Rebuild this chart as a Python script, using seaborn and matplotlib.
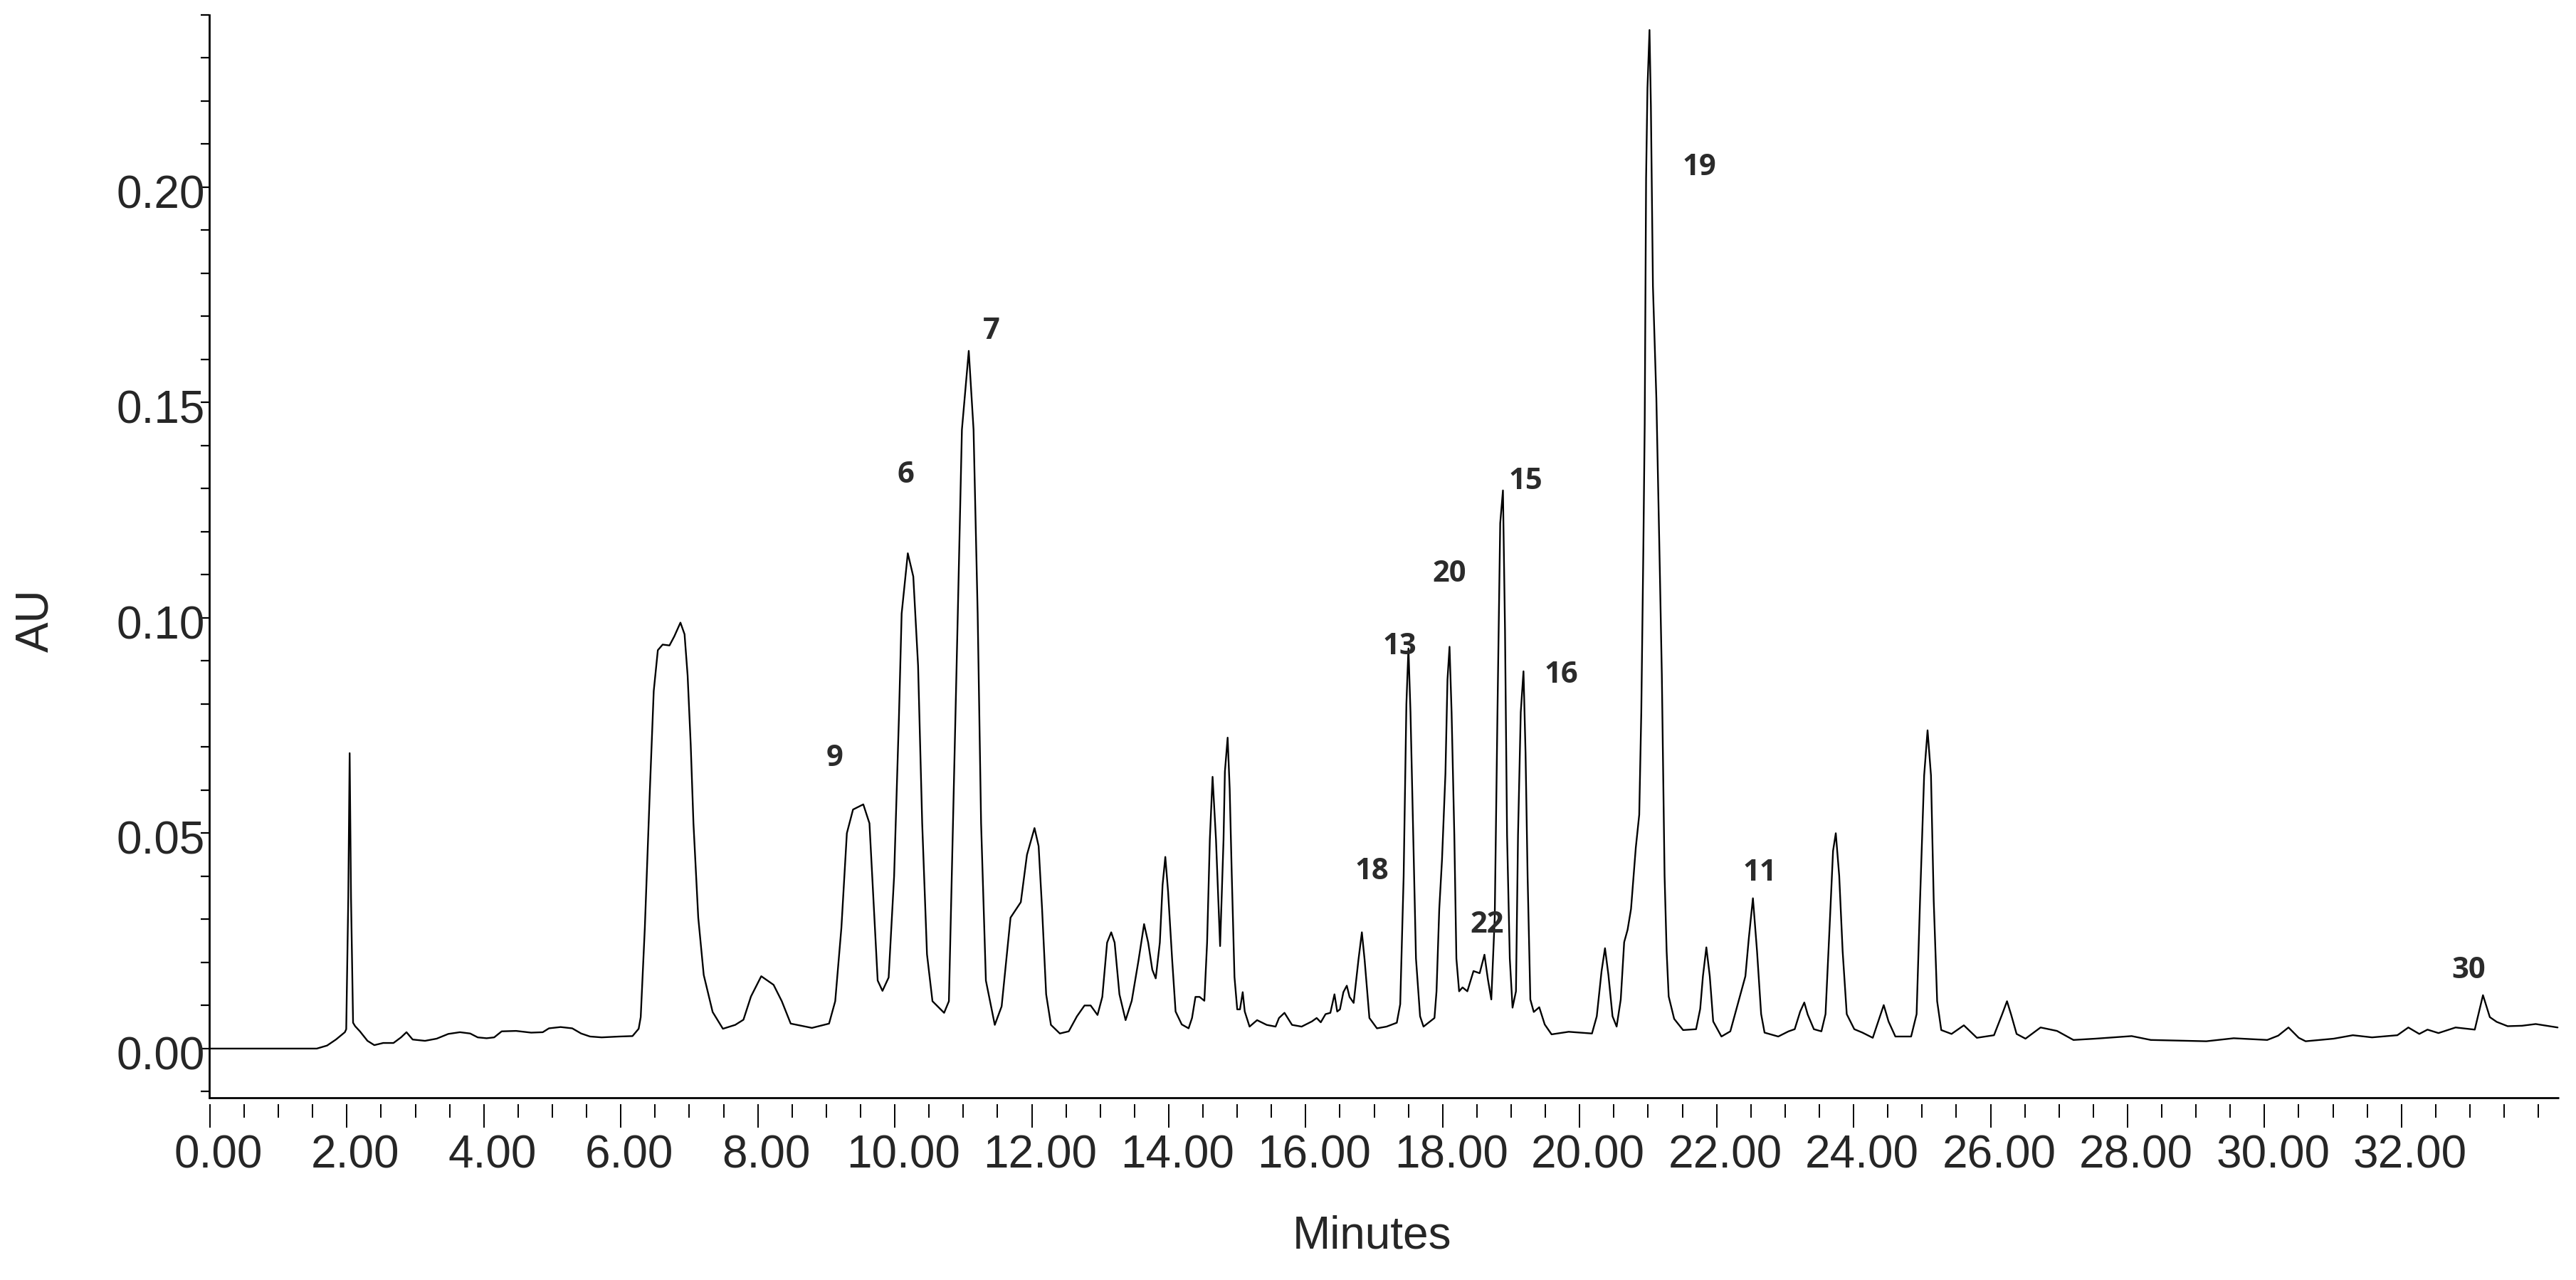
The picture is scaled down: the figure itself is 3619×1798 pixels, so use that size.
import matplotlib
matplotlib.use("Agg")
import matplotlib.pyplot as plt
import matplotlib.transforms as mtransforms
from matplotlib.lines import Line2D
from matplotlib.ticker import MultipleLocator
import seaborn as sns
import pandas as pd

# ---------------- data ----------------
minutes = [
    0.00, 1.56, 1.71, 1.84, 1.97, 1.99, 2.02, 2.04, 2.06, 2.09, 2.12, 2.19, 2.30, 2.40, 2.53,
    2.68, 2.79, 2.87, 2.96, 3.14, 3.31, 3.48, 3.65, 3.80, 3.91, 4.04, 4.15, 4.26, 4.47,
    4.69, 4.86, 4.95, 5.12, 5.29, 5.42, 5.55, 5.72, 5.98, 6.17, 6.26,
    6.29, 6.35, 6.42, 6.48, 6.54, 6.61, 6.71, 6.78, 6.87, 6.93, 6.975, 7.02, 7.06, 7.13,
    7.21, 7.34, 7.49, 7.67, 7.79, 7.90, 8.05, 8.23, 8.35, 8.48, 8.79, 9.04, 9.13, 9.22,
    9.30, 9.39, 9.54, 9.63, 9.69, 9.75, 9.82, 9.91, 9.99, 10.06, 10.10, 10.19, 10.27,
    10.34, 10.40, 10.47, 10.55, 10.72, 10.79, 10.85, 10.92, 10.98, 11.08, 11.15, 11.21,
    11.26, 11.33, 11.46, 11.56, 11.69, 11.84, 11.93, 12.04, 12.10, 12.15, 12.21, 12.28,
    12.41, 12.54,
    12.66, 12.77, 12.86, 12.96, 13.03, 13.10, 13.16, 13.21, 13.28, 13.37, 13.46, 13.56,
    13.64, 13.70, 13.76, 13.81, 13.87, 13.91, 13.95, 13.99, 14.05, 14.10, 14.19, 14.29,
    14.34, 14.39, 14.45, 14.52, 14.56, 14.60, 14.64, 14.69, 14.75, 14.80, 14.82, 14.86,
    14.89, 14.92, 14.96, 15.00, 15.04, 15.08, 15.11, 15.18, 15.29, 15.43, 15.56, 15.61,
    15.69, 15.80, 15.94, 16.09, 16.16, 16.22, 16.29, 16.36, 16.42, 16.46, 16.50, 16.55,
    16.60, 16.64, 16.70, 16.77, 16.82, 16.86, 16.93, 17.04, 17.18, 17.33,
    17.38, 17.43, 17.47, 17.50, 17.53, 17.57, 17.61, 17.67, 17.72, 17.88, 17.91, 17.95,
    17.99, 18.04, 18.07, 18.10, 18.13, 18.17, 18.20, 18.24, 18.29, 18.36, 18.45, 18.54,
    18.61, 18.66, 18.71, 18.76, 18.80, 18.84, 18.88, 18.91, 18.94, 18.98, 19.02, 19.07,
    19.10, 19.14, 19.18, 19.21, 19.24, 19.28, 19.33, 19.41, 19.49, 19.59, 19.84, 20.18,
    20.25, 20.32, 20.37, 20.42, 20.48, 20.54, 20.60, 20.65, 20.70, 20.75, 20.82, 20.87,
    20.90, 20.93, 20.95, 20.97, 20.99, 21.02, 21.04, 21.07, 21.12, 21.17,
    21.20, 21.22, 21.24, 21.27, 21.30, 21.38, 21.51, 21.70, 21.76, 21.80, 21.85, 21.90,
    21.95, 22.07, 22.20, 22.32, 22.42, 22.47, 22.53, 22.59, 22.65, 22.70, 22.90, 23.05,
    23.14, 23.22, 23.28, 23.33, 23.42, 23.53, 23.59, 23.65, 23.70, 23.74, 23.79, 23.84,
    23.90, 24.01, 24.13, 24.28, 24.36, 24.44, 24.51, 24.61, 24.84, 24.92, 24.97, 25.03,
    25.08, 25.13, 25.17, 25.22, 25.28, 25.43, 25.61, 25.80, 26.05, 26.17, 26.24, 26.30,
    26.38, 26.51,
    26.73, 26.97, 27.21, 27.53, 28.06, 28.34, 29.15, 29.55, 30.04, 30.20, 30.35, 30.50,
    30.60, 31.01, 31.29, 31.57, 31.94, 32.10, 32.26, 32.38, 32.54, 32.79, 33.07, 33.19,
    33.29, 33.39, 33.55, 33.76, 33.96, 34.28,
]
absorbance = [
    0.0000, 0.0000, 0.0007, 0.0021, 0.0038, 0.0045, 0.0350, 0.0686, 0.0350, 0.0060, 0.0052, 0.0040, 0.0018, 0.0008, 0.0013,
    0.0013, 0.0026, 0.0038, 0.0021, 0.0018, 0.0023, 0.0034, 0.0038, 0.0035, 0.0026, 0.0024, 0.0026, 0.0040, 0.0041,
    0.0037, 0.0038, 0.0047, 0.0050, 0.0047, 0.0035, 0.0028, 0.0026, 0.0028, 0.0029, 0.0046,
    0.0073, 0.0280, 0.0585, 0.0830, 0.0925, 0.0938, 0.0936, 0.0957, 0.0989, 0.0962, 0.0866, 0.0706, 0.0523, 0.0304,
    0.0171, 0.0085, 0.0046, 0.0055, 0.0067, 0.0121, 0.0168, 0.0148, 0.0110, 0.0058, 0.0048, 0.0058, 0.0110, 0.0280,
    0.0500, 0.0555, 0.0567, 0.0523, 0.0340, 0.0158, 0.0134, 0.0165, 0.0400, 0.0767, 0.1010, 0.1150, 0.1096,
    0.0889, 0.0523, 0.0219, 0.0110, 0.0083, 0.0110, 0.0523, 0.1010, 0.1437, 0.1620, 0.1437, 0.1010,
    0.0523, 0.0158, 0.0055, 0.0098, 0.0304, 0.0340, 0.0450, 0.0512, 0.0470, 0.0326, 0.0126, 0.0055,
    0.0035, 0.0040,
    0.0075, 0.0100, 0.0100, 0.0078, 0.0120, 0.0246, 0.0270, 0.0246, 0.0126, 0.0066, 0.0111, 0.0206,
    0.0289, 0.0246, 0.0183, 0.0163, 0.0246, 0.0380, 0.0445, 0.0365, 0.0206, 0.0086, 0.0056, 0.0047,
    0.0071, 0.0120, 0.0120, 0.0111, 0.0246, 0.0485, 0.0631, 0.0485, 0.0238, 0.0485, 0.0643, 0.0722,
    0.0603, 0.0405, 0.0166, 0.0091, 0.0091, 0.0131, 0.0086, 0.0051, 0.0066, 0.0055, 0.0051, 0.0071,
    0.0083, 0.0055, 0.0051, 0.0063, 0.0071, 0.0061, 0.0080, 0.0083, 0.0126, 0.0086, 0.0091, 0.0131,
    0.0146, 0.0120, 0.0106, 0.0206, 0.0270, 0.0206, 0.0071, 0.0047, 0.0051, 0.0060,
    0.0103, 0.0400, 0.0800, 0.0929, 0.0781, 0.0495, 0.0209, 0.0075, 0.0051, 0.0071, 0.0133, 0.0324,
    0.0438, 0.0638, 0.0857, 0.0933, 0.0781, 0.0495, 0.0209, 0.0133, 0.0142, 0.0133, 0.0180, 0.0175,
    0.0218, 0.0161, 0.0114, 0.0304, 0.0781, 0.1220, 0.1296, 0.0972, 0.0495, 0.0209, 0.0095, 0.0133,
    0.0495, 0.0781, 0.0876, 0.0686, 0.0400, 0.0114, 0.0085, 0.0096, 0.0056, 0.0033, 0.0039, 0.0035,
    0.0075, 0.0180, 0.0233, 0.0171, 0.0075, 0.0051, 0.0114, 0.0247, 0.0276, 0.0324, 0.0467, 0.0543,
    0.0781, 0.1160, 0.1450, 0.2020, 0.2230, 0.2365, 0.2190, 0.1770, 0.1510, 0.1116,
    0.0867, 0.0634, 0.0401, 0.0226, 0.0121, 0.0069, 0.0043, 0.0045, 0.0092, 0.0168, 0.0235, 0.0168,
    0.0063, 0.0028, 0.0040, 0.0110, 0.0168, 0.0256, 0.0349, 0.0226, 0.0080, 0.0037, 0.0028, 0.0040,
    0.0045, 0.0086, 0.0107, 0.0079, 0.0045, 0.0040, 0.0080, 0.0284, 0.0459, 0.0500, 0.0401, 0.0226,
    0.0080, 0.0045, 0.0037, 0.0025, 0.0063, 0.0101, 0.0063, 0.0028, 0.0028, 0.0080, 0.0343, 0.0634,
    0.0739, 0.0634, 0.0343, 0.0110, 0.0043, 0.0034, 0.0054, 0.0025, 0.0031, 0.0080, 0.0110, 0.0079,
    0.0034, 0.0023,
    0.0049, 0.0041, 0.0020, 0.0023, 0.0029, 0.0020, 0.0017, 0.0024, 0.0020, 0.0030, 0.0049, 0.0025,
    0.0017, 0.0023, 0.0031, 0.0026, 0.0031, 0.0049, 0.0034, 0.0044, 0.0036, 0.0049, 0.0044, 0.0124,
    0.0073, 0.0062, 0.0052, 0.0053, 0.0057, 0.0049,
]

peak_names = ["9", "6", "7", "18", "13", "20", "22", "15", "16", "19", "11", "30"]
peak_label_min = [9.12, 10.16, 11.41, 16.97, 17.37, 18.10, 18.65, 19.21, 19.73, 21.75, 22.63, 32.98]
peak_label_au = [0.0688, 0.1346, 0.1680, 0.0425, 0.0947, 0.1117, 0.0302, 0.1332, 0.0881, 0.2060, 0.0422, 0.0195]

x_tick_values = [0, 2, 4, 6, 8, 10, 12, 14, 16, 18, 20, 22, 24, 26, 28, 30, 32]
x_tick_labels = ["0.00", "2.00", "4.00", "6.00", "8.00", "10.00", "12.00", "14.00", "16.00",
                 "18.00", "20.00", "22.00", "24.00", "26.00", "28.00", "30.00", "32.00"]
y_tick_values = [0.00, 0.05, 0.10, 0.15, 0.20]
y_tick_labels = ["0.00", "0.05", "0.10", "0.15", "0.20"]

df = pd.DataFrame({"Minutes": minutes, "AU": absorbance})

# ---------------- styling ----------------
sns.set_theme(style="ticks")
plt.rcParams["font.family"] = ["Liberation Sans", "DejaVu Sans"]

fig = plt.figure(figsize=(36.19, 17.99), dpi=100)
ax = fig.add_axes([0.0811, 0.1425, 0.9123, 0.8453])

sns.lineplot(data=df, x="Minutes", y="AU", ax=ax, color="black", linewidth=1.7,
             estimator=None, sort=False)

ax.set_xlim(-0.015, 34.30)
ax.set_ylim(-0.01136, 0.2400)

for side in ["top", "right"]:
    ax.spines[side].set_visible(False)
ax.spines["left"].set_linewidth(2.0)
ax.spines["left"].set_color("black")
# ticks hang a little below the axis line
ax.spines["bottom"].set_position(("outward", 6.5))
ax.spines["bottom"].set_visible(False)
ax.add_artist(Line2D([0, 1], [0, 0], transform=ax.transAxes, color="black",
                     linewidth=2.0, clip_on=False, solid_capstyle="butt"))

ax.set_xticks(x_tick_values)
ax.set_xticklabels(x_tick_labels)
ax.xaxis.set_minor_locator(MultipleLocator(0.5))
ax.set_yticks(y_tick_values)
ax.set_yticklabels(y_tick_labels)
ax.yaxis.set_minor_locator(MultipleLocator(0.01))

ax.tick_params(axis="x", which="major", direction="out", length=23.8, width=1.4,
               color="black", labelsize=46, pad=6, bottom=True)
ax.tick_params(axis="x", which="minor", direction="out", length=13.7, width=1.4,
               color="black", bottom=True)
ax.tick_params(axis="y", which="both", direction="out", length=9, width=1.6,
               color="black", labelsize=46, pad=-5, left=True)

dx = mtransforms.ScaledTranslation(0.12, 0, fig.dpi_scale_trans)
for lab in ax.get_xticklabels():
    lab.set_transform(lab.get_transform() + dx)
dy = mtransforms.ScaledTranslation(0, -0.05, fig.dpi_scale_trans)
for lab in ax.get_yticklabels():
    lab.set_transform(lab.get_transform() + dy)

ax.set_xlabel("Minutes", fontsize=46)
ax.xaxis.set_label_coords(0.4948, -0.1276)
ax.xaxis.label.set_va("center")
ax.set_ylabel("AU", fontsize=46)
ax.yaxis.set_label_coords(-0.0735, 0.4410)
ax.yaxis.label.set_va("center")
ax.yaxis.label.set_rotation_mode("default")

label_shift = ax.transData + mtransforms.ScaledTranslation(0, -0.08, fig.dpi_scale_trans)
for name, tm, av in zip(peak_names, peak_label_min, peak_label_au):
    ax.text(tm, av, name, fontsize=30, fontweight="bold", color="#2b2b2b",
            family=["Open Sans", "DejaVu Sans"], ha="center", va="center",
            transform=label_shift)

fig.savefig("out.png", dpi=100, facecolor="white")
